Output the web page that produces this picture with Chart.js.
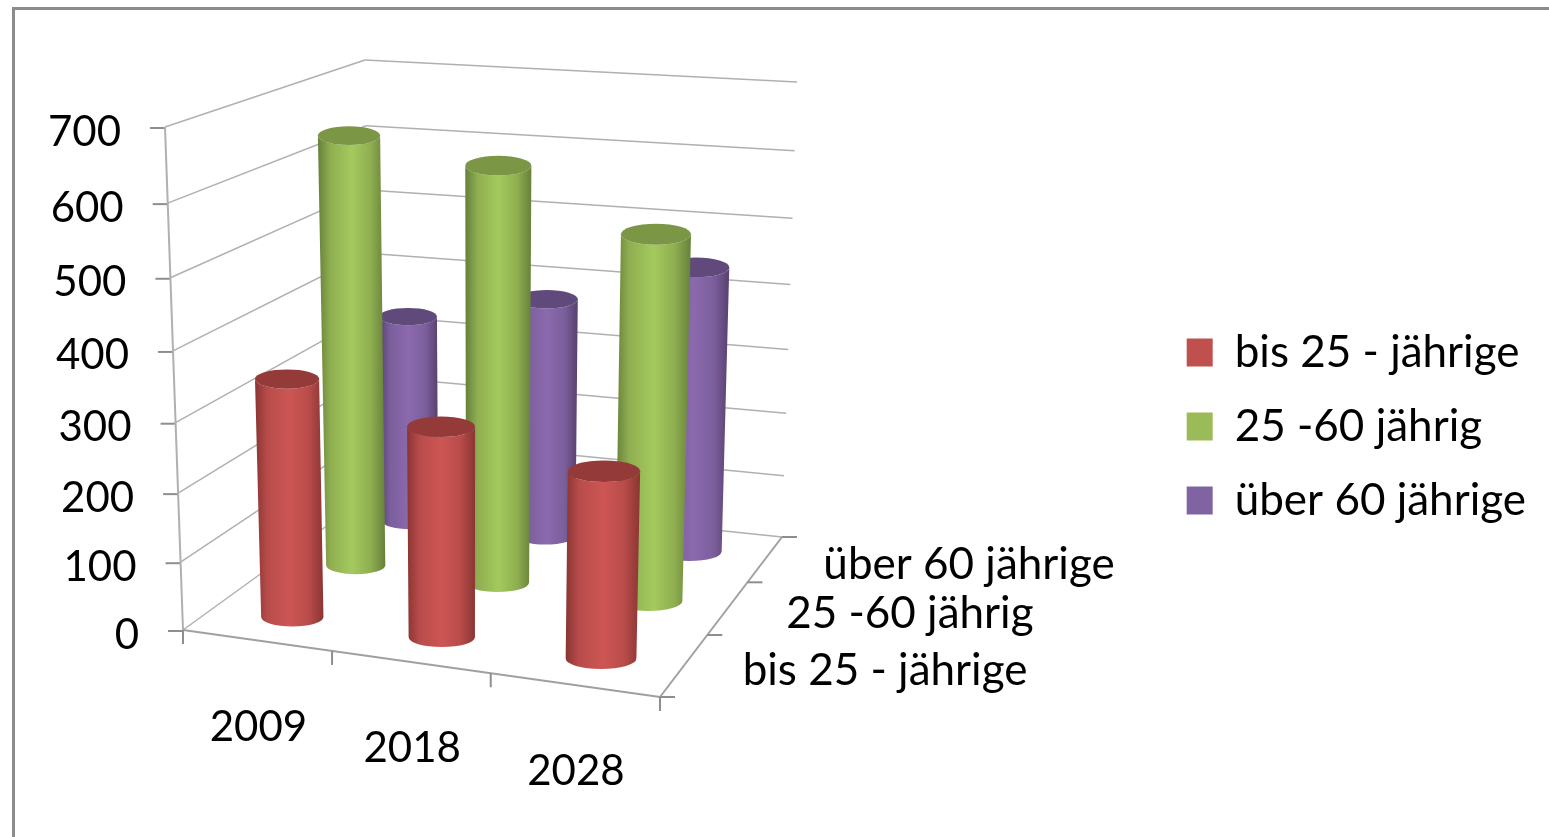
<!DOCTYPE html>
<html>
<head>
    <title>3D Zylinder Diagramm</title>
    <script src="https://cdn.jsdelivr.net/npm/chart.js"></script>
    <style>
        html, body { margin: 0; background: #fff; overflow: hidden; }
        #frame { position: absolute; left: 12px; top: 7px; width: 2000px; height: 2000px; border: 3px solid #8c8c8c; }
        #chart { position: absolute; left: 0; top: 0; }
    </style>
</head>
<body>
    <div id="frame"></div>
    <canvas id="chart" width="1549" height="837"></canvas>
    <script>
        const years = ['2009', '2018', '2028'];
        const seriesNames = ['bis 25 - jährige', '25 -60 jährig', 'über 60 jährige'];
        const young = [343, 299, 262];
        const middle = [642, 615, 536];
        const old = [330, 375, 441];
        const yTicks = [0, 100, 200, 300, 400, 500, 600, 700];

        const NUM_FONT = '42px Lato';
        const TEXT_FONT = '44px Lato';
        const GRID = '#b0b0b0';
        const AXIS = '#8e8e8e';
        const SINK = 6; // front cylinders stand a little below their floor spot, back ones less

        // box corners on screen: f/b = front/back, l/r = left/right, 0 = floor, 1 = top
        const box = {
            fl0: [183, 630], fr0: [660, 697], br0: [782, 537], bl0: [371, 494],
            fl1: [165, 127], fr1: [673, 170], br1: [797, 82], bl1: [365, 60]
        };
        const warp = (t, k) => t / (t + k * (1 - t));
        const lerp = (a, b, t) => [a[0] + (b[0] - a[0]) * t, a[1] + (b[1] - a[1]) * t];

        // u along the categories, v up the value axis, w into the depth, all 0..1
        function project(u, v, w) {
            const uu = warp(u, 1.1), vv = warp(v, 1.07), ww = warp(w, 0.79);
            const floor = lerp(lerp(box.fl0, box.fr0, uu), lerp(box.bl0, box.br0, uu), ww);
            const top = lerp(lerp(box.fl1, box.fr1, uu), lerp(box.bl1, box.br1, uu), ww);
            return lerp(floor, top, vv);
        }

        function line(ctx, a, b, color, width) {
            ctx.strokeStyle = color;
            ctx.lineWidth = width;
            ctx.beginPath();
            ctx.moveTo(a[0], a[1]);
            ctx.lineTo(b[0], b[1]);
            ctx.stroke();
        }

        function cylinder(ctx, u, du, v, w, look) {
            const bl = project(u - du, 0, w), br = project(u + du, 0, w);
            const tl = project(u - du, v, w), tr = project(u + du, v, w);
            const b = project(u, 0, w), t = project(u, v, w);
            const rb = (br[0] - bl[0]) / 2, rt = (tr[0] - tl[0]) / 2;
            const by = b[1] + SINK * (1 - w);

            const grad = ctx.createLinearGradient(Math.min(bl[0], tl[0]), 0, Math.max(br[0], tr[0]), 0);
            grad.addColorStop(0, look.edge);
            grad.addColorStop(0.18, look.mid);
            grad.addColorStop(0.5, look.light);
            grad.addColorStop(0.78, look.mid);
            grad.addColorStop(1, look.edge);
            ctx.fillStyle = grad;
            ctx.beginPath();
            ctx.moveTo(t[0] - rt, t[1]);
            ctx.lineTo(b[0] - rb, by);
            ctx.ellipse(b[0], by, rb, rb * 0.3, 0, Math.PI, 0, true);
            ctx.lineTo(t[0] + rt, t[1]);
            ctx.ellipse(t[0], t[1], rt, rt * 0.3, 0, 0, Math.PI, false);
            ctx.closePath();
            ctx.fill();

            ctx.fillStyle = look.top;
            ctx.beginPath();
            ctx.ellipse(t[0], t[1], rt, rt * 0.3, 0, 0, Math.PI * 2);
            ctx.fill();
        }

        const looks = [
            { edge: '#8a3533', mid: '#b84c4a', light: '#cd5654', top: '#943a38' },
            { edge: '#66803a', mid: '#8fae50', light: '#a4ca5e', top: '#7b9645' },
            { edge: '#57406f', mid: '#7b5f9c', light: '#8b69ad', top: '#604a7b' }
        ];

        const scene3d = {
            id: 'scene3d',
            beforeDatasetsDraw(chart) {
                const ctx = chart.ctx;
                const x = chart.scales.x, y = chart.scales.y, z = chart.scales.z;
                const uOf = i => (x.getPixelForValue(i) - x.left) / x.width;
                const vOf = val => (y.bottom - y.getPixelForValue(val)) / y.height;
                const wOf = j => (z.getPixelForValue(j) - z.left) / z.width;

                ctx.save();
                ctx.lineCap = 'butt';

                // walls
                y.ticks.forEach(tick => {
                    const v = vOf(tick.value);
                    const a = project(0, v, 0), c = project(0, v, 1), d = project(1, v, 1);
                    line(ctx, a, c, GRID, 1.5);
                    line(ctx, c, d, GRID, 1.5);
                    line(ctx, [a[0] - 15, a[1] + 1], [a[0], a[1] + 1], AXIS, 2);
                });
                line(ctx, project(0, 0, 0), project(0, 1, 0), GRID, 2);
                line(ctx, project(0, 0, 0), project(1, 0, 0), '#a0a0a0', 2);
                line(ctx, project(1, 0, 0), project(1, 0, 1), '#a0a0a0', 2);

                // axis ticks, category and depth
                for (let i = 0; i <= years.length; i++) {
                    const p = project(i / years.length, 0, 0);
                    line(ctx, p, [p[0], p[1] + 14], AXIS, 2);
                }
                for (let j = 0; j <= seriesNames.length; j++) {
                    const p = project(1, 0, j / seriesNames.length);
                    line(ctx, p, [p[0] + 15, p[1]], AXIS, 2);
                }

                // back row first so the front row covers it
                const du = 0.43 / years.length / 2;
                for (let j = chart.data.datasets.length - 1; j >= 0; j--) {
                    chart.data.datasets[j].data.forEach((val, i) => {
                        cylinder(ctx, uOf(i), du, vOf(val), wOf(j), looks[j]);
                    });
                }

                // labels
                ctx.font = NUM_FONT;
                ctx.fillStyle = '#000';
                ctx.textBaseline = 'middle';
                ctx.textAlign = 'right';
                y.ticks.forEach(tick => {
                    const p = project(0, vOf(tick.value), 0);
                    ctx.fillText(tick.label, p[0] - 44, p[1] + 5);
                });
                ctx.textAlign = 'center';
                years.forEach((label, i) => {
                    const p = project(uOf(i), 0, 0);
                    ctx.fillText(label, p[0] + 2, p[1] + 87);
                });
                ctx.font = TEXT_FONT;
                ctx.textAlign = 'left';
                seriesNames.forEach((label, j) => {
                    const p = project(1, 0, wOf(j));
                    ctx.fillText(label, p[0] + 58, p[1] + 6);
                });
                ctx.restore();

                return false;
            }
        };

        new Chart(document.getElementById('chart'), {
            type: 'bar',
            data: {
                labels: years,
                datasets: [
                    { label: seriesNames[0], data: young, backgroundColor: '#C0504D', borderWidth: 0 },
                    { label: seriesNames[1], data: middle, backgroundColor: '#9BBB59', borderWidth: 0 },
                    { label: seriesNames[2], data: old, backgroundColor: '#8064A2', borderWidth: 0 }
                ]
            },
            options: {
                responsive: false,
                animation: false,
                layout: { padding: { top: 16, right: 13 } },
                scales: {
                    x: { display: false },
                    y: { display: false, min: 0, max: 700, afterBuildTicks: s => { s.ticks = yTicks.map(value => ({ value })); } },
                    z: { type: 'category', axis: 'x', labels: seriesNames, offset: true, display: false }
                },
                plugins: {
                    tooltip: { enabled: false },
                    legend: {
                        position: 'right',
                        labels: {
                            color: '#000',
                            font: { family: 'Lato', size: 44 },
                            boxWidth: 26,
                            boxHeight: 28,
                            padding: 30
                        }
                    }
                }
            },
            plugins: [scene3d]
        });
    </script>
</body>
</html>
